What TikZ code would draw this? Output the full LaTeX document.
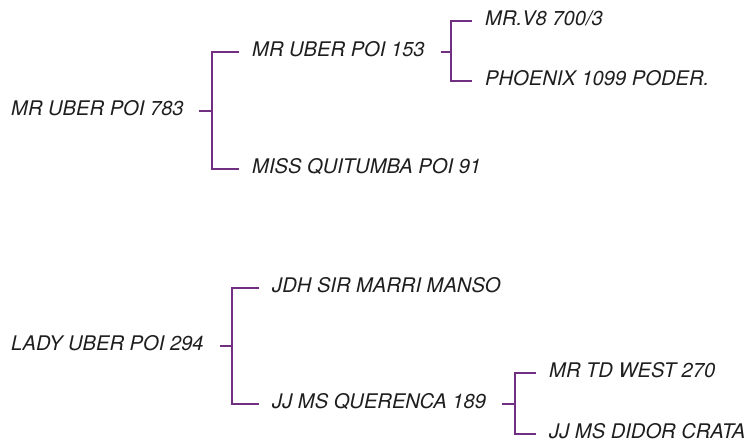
\documentclass[tikz,border=0pt]{standalone}
\usepackage{fontspec}
\setmainfont{TeX Gyre Heros}
\usetikzlibrary{calc}
\definecolor{tpurple}{HTML}{702F80}
\definecolor{tink}{HTML}{1E1E1E}
\tikzset{
  horse/.style={anchor=west,inner sep=0pt,text height=0.72em,text depth=0pt,text=tink,font=\fontsize{17.2}{20}\selectfont\itshape},
  link/.style={draw=tpurple,line width=1.7pt},
}
\begin{document}
\begin{tikzpicture}[x=0.03cm,y=-0.03cm]
  \useasboundingbox (0,0) rectangle (751,441);
  % first family
  \node[horse] (r1) at (11,111) {MR UBER POI 783};
  \node[horse] (c1a) at (252,52) {MR UBER POI 153};
  \node[horse] (c1b) at (252,169) {MISS QUITUMBA POI 91};
  \node[horse] (g1a) at (485,21) {MR.V8 700/3};
  \node[horse] (g1b) at (485,81) {PHOENIX 1099 PODER.};
  \coordinate (j1) at (212,111);
  \coordinate (j2) at (451,52);
  \draw[link] ($(r1.east)+(15,0)$) -- (j1);
  \draw[link] ($(c1a.west)+(-13,0)$) -| (j1) |- ($(c1b.west)+(-13,0)$);
  \draw[link] ($(c1a.east)+(16,0)$) -- (j2);
  \draw[link] ($(g1a.west)+(-13,0)$) -| (j2) |- ($(g1b.west)+(-13,0)$);
  % second family
  \node[horse] (r2) at (11,346) {LADY UBER POI 294};
  \node[horse] (c2a) at (272,288) {JDH SIR MARRI MANSO};
  \node[horse] (c2b) at (272,404) {JJ MS QUERENCA 189};
  \node[horse] (g2a) at (549,373) {MR TD WEST 270};
  \node[horse] (g2b) at (549,434) {JJ MS DIDOR CRATA};
  \coordinate (j3) at (232,346);
  \coordinate (j4) at (515,404);
  \draw[link] ($(r2.east)+(16,0)$) -- (j3);
  \draw[link] ($(c2a.west)+(-13,0)$) -| (j3) |- ($(c2b.west)+(-13,0)$);
  \draw[link] ($(c2b.east)+(16,0)$) -- (j4);
  \draw[link] ($(g2a.west)+(-13,0)$) -| (j4) |- ($(g2b.west)+(-13,0)$);
\end{tikzpicture}
\end{document}
